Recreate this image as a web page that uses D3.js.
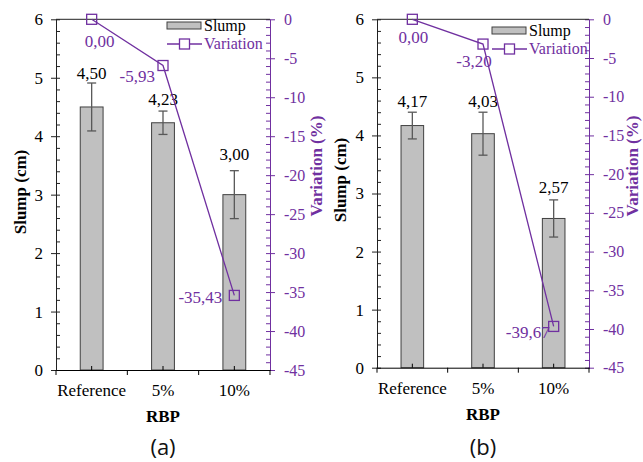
<!DOCTYPE html>
<html>
<head>
<meta charset="utf-8">
<script src="https://cdn.jsdelivr.net/npm/d3@7"></script>
<style>
  html, body { margin: 0; padding: 0; background: #fff; }
  svg { display: block; }
</style>
</head>
<body>
<svg id="chart" width="643" height="462"></svg>
<script>
// Slump test results for the reference mix and the two RBP replacement levels
const categories = ["Reference", "5%", "10%"];

const slumpA = [4.50, 4.23, 3.00];
const slumpErrA = [0.41, 0.20, 0.41];
const variationA = [0.00, -5.93, -35.43];

const slumpB = [4.17, 4.03, 2.57];
const slumpErrB = [0.23, 0.37, 0.32];
const variationB = [0.00, -3.20, -39.67];

const slumpTicks = [0, 1, 2, 3, 4, 5, 6];
const variationTicks = [0, -5, -10, -15, -20, -25, -30, -35, -40, -45];

const PURPLE = "#7030a0";
const SERIF = "Liberation Serif, Tinos, Times New Roman, Times, DejaVu Serif, serif";
const svg = d3.select("#chart");
const fmt = v => d3.format(".2f")(v).replace(".", ",").replace("−", "-");

function drawPanel(p) {
  const g = svg.append("g").attr("font-family", SERIF);

  const x = d3.scaleBand().domain(categories).range([p.left, p.right]).padding(0);
  const y = d3.scaleLinear().domain([0, 6]).range([p.bottom, p.top]);
  const y2 = d3.scaleLinear().domain([-45, 0]).range([p.bottom, p.top]);
  const barW = x.bandwidth() * 0.32;
  const cx = c => x(c) + x.bandwidth() / 2;

  // bars
  g.selectAll("rect.bar").data(p.slump).join("rect")
    .attr("class", "bar")
    .attr("x", (d, i) => cx(categories[i]) - barW / 2)
    .attr("y", d => y(d))
    .attr("width", barW)
    .attr("height", d => y(0) - y(d))
    .attr("fill", "#c0c0c0")
    .attr("stroke", "#404040")
    .attr("stroke-width", 1);

  // error bars
  const eb = g.selectAll("g.err").data(p.slump).join("g").attr("class", "err")
    .attr("stroke", "#585858").attr("stroke-width", 1.3);
  eb.append("line")
    .attr("x1", (d, i) => cx(categories[i])).attr("x2", (d, i) => cx(categories[i]))
    .attr("y1", (d, i) => y(d + p.err[i])).attr("y2", (d, i) => y(d - p.err[i]));
  [1, -1].forEach(s => {
    eb.append("line")
      .attr("x1", (d, i) => cx(categories[i]) - 4.5).attr("x2", (d, i) => cx(categories[i]) + 4.5)
      .attr("y1", (d, i) => y(d + s * p.err[i])).attr("y2", (d, i) => y(d + s * p.err[i]));
  });

  // bar value labels
  g.selectAll("text.val").data(p.slump).join("text")
    .attr("class", "val")
    .attr("x", (d, i) => cx(categories[i]))
    .attr("y", (d, i) => y(d + p.err[i]) - p.valGap[i])
    .attr("text-anchor", "middle")
    .attr("font-size", 17)
    .attr("fill", "#000")
    .text(d => fmt(d));

  // left axis: major ticks crossing, minor ticks inside
  const left = g.append("g").attr("transform", `translate(${p.left},0)`);
  left.call(d3.axisLeft(y).tickValues(slumpTicks).tickSizeInner(5).tickSizeOuter(0).tickPadding(8).tickFormat(d3.format("d")));
  left.append("g").call(d3.axisLeft(y).tickValues(slumpTicks).tickSizeInner(-4).tickSizeOuter(0).tickFormat(""));
  left.append("g").call(d3.axisLeft(y)
    .tickValues(d3.range(1, 30).map(k => k / 5).filter(v => Math.abs(v - Math.round(v)) > 1e-6))
    .tickSizeInner(-4).tickSizeOuter(0).tickFormat(""));
  left.selectAll("path, line").attr("stroke", "#222");
  left.attr("font-family", SERIF);
  left.selectAll("g").attr("font-family", SERIF);
  left.selectAll("text").attr("font-size", 17).attr("fill", "#000").attr("font-family", SERIF);

  // right axis (variation)
  const right = g.append("g").attr("transform", `translate(${p.right},0)`);
  right.call(d3.axisRight(y2).tickValues(variationTicks).tickSizeInner(5).tickSizeOuter(0).tickPadding(9).tickFormat(d3.format("d")));
  right.append("g").call(d3.axisRight(y2).tickValues(variationTicks).tickSizeInner(-4).tickSizeOuter(0).tickFormat(""));
  right.append("g").call(d3.axisRight(y2)
    .tickValues(d3.range(-44, 0).filter(v => v % 5 !== 0))
    .tickSizeInner(-4).tickSizeOuter(0).tickFormat(""));
  right.selectAll("path, line").attr("stroke", PURPLE);
  right.attr("font-family", SERIF);
  right.selectAll("text").attr("font-size", 16).attr("fill", PURPLE).attr("font-family", SERIF)
    .text(function () { return this.textContent.replace("−", "-"); });

  // top frame line
  g.append("line").attr("x1", p.left).attr("x2", p.right)
    .attr("y1", p.top).attr("y2", p.top).attr("stroke", "#222");

  // bottom axis: ticks at category boundaries, short marks at category centres
  const bottom = g.append("g").attr("transform", `translate(0,${p.bottom})`);
  bottom.call(d3.axisBottom(x).tickSize(0).tickPadding(14));
  bottom.attr("font-family", SERIF);
  bottom.select(".domain").attr("stroke", "#000");
  bottom.selectAll("text").attr("font-size", 17).attr("fill", "#000").attr("font-family", SERIF);
  const edges = categories.map(c => x(c)).concat([p.right]);
  bottom.selectAll("line.edge").data(edges).join("line").attr("class", "edge")
    .attr("x1", d => d).attr("x2", d => d).attr("y1", 0).attr("y2", 5).attr("stroke", "#000");
  bottom.selectAll("line.mid").data(categories).join("line").attr("class", "mid")
    .attr("x1", d => cx(d)).attr("x2", d => cx(d)).attr("y1", 0).attr("y2", -4).attr("stroke", "#000");

  // variation line with hollow square markers
  const pts = p.variation.map((v, i) => [cx(categories[i]), y2(v)]);
  g.append("path").attr("d", d3.line()(pts))
    .attr("fill", "none").attr("stroke", PURPLE).attr("stroke-width", 1.3);
  g.selectAll("rect.mk").data(pts).join("rect").attr("class", "mk")
    .attr("x", d => d[0] - 5).attr("y", d => d[1] - 5)
    .attr("width", 10).attr("height", 10)
    .attr("fill", "none").attr("stroke", PURPLE).attr("stroke-width", 1.3);

  g.selectAll("text.var").data(p.variation).join("text").attr("class", "var")
    .attr("x", (d, i) => pts[i][0] + p.varOff[i][0])
    .attr("y", (d, i) => pts[i][1] + p.varOff[i][1])
    .attr("text-anchor", (d, i) => p.varOff[i][2])
    .attr("font-size", 17).attr("fill", PURPLE)
    .text(d => fmt(d));

  // legend
  const lg = g.append("g").attr("transform", `translate(${p.legend[0]},${p.legend[1]})`);
  lg.append("rect").attr("x", 0).attr("y", 0).attr("width", 34).attr("height", 7)
    .attr("fill", "#c0c0c0").attr("stroke", "#404040");
  lg.append("text").attr("x", 37).attr("y", 9).attr("font-size", 16).attr("fill", "#000").text("Slump");
  lg.append("line").attr("x1", 0).attr("x2", 35).attr("y1", 22).attr("y2", 22)
    .attr("stroke", PURPLE).attr("stroke-width", 1.3);
  lg.append("rect").attr("x", 12.5).attr("y", 17).attr("width", 10).attr("height", 10)
    .attr("fill", "#fff").attr("stroke", PURPLE).attr("stroke-width", 1.3);
  lg.append("text").attr("x", 37).attr("y", 27).attr("font-size", 16).attr("fill", PURPLE).text("Variation");

  // axis titles
  g.append("text")
    .attr("transform", `translate(${p.leftTitle[0]},${p.leftTitle[1]}) rotate(-90)`)
    .attr("text-anchor", "middle").attr("font-size", 17).attr("font-weight", "bold")
    .attr("fill", "#000").text("Slump (cm)");
  g.append("text")
    .attr("transform", `translate(${p.rightTitle[0]},${p.rightTitle[1]}) rotate(-90)`)
    .attr("text-anchor", "middle").attr("font-size", 17).attr("font-weight", "bold")
    .attr("fill", PURPLE).text("Variation (%)");
  g.append("text")
    .attr("x", (p.left + p.right) / 2).attr("y", p.bottom + 52)
    .attr("text-anchor", "middle").attr("font-size", 17).attr("font-weight", "bold")
    .attr("fill", "#000").text("RBP");

  // panel caption
  g.append("text")
    .attr("x", (p.left + p.right) / 2).attr("y", 455)
    .attr("text-anchor", "middle").attr("font-size", 22)
    .attr("font-family", "Open Sans, Noto Sans, sans-serif")
    .attr("fill", "#111").text(p.caption);
}

drawPanel({
  slump: slumpA, err: slumpErrA, variation: variationA,
  left: 56, right: 270, top: 19.3, bottom: 370,
  valGap: [4, 6, 11],
  varOff: [[8, 28, "middle"], [-8, 16, "end"], [-12, 8, "end"]],
  legend: [167, 22],
  leftTitle: [26, 192], rightTitle: [322, 166],
  caption: "(a)"
});

drawPanel({
  slump: slumpB, err: slumpErrB, variation: variationB,
  left: 377, right: 589, top: 19.3, bottom: 367.7,
  valGap: [5, 5, 7],
  varOff: [[1, 24, "middle"], [-9, 23, "middle"], [-4, 12, "end"]],
  legend: [492, 27],
  leftTitle: [346, 180], rightTitle: [638, 166],
  caption: "(b)"
});
</script>
</body>
</html>
